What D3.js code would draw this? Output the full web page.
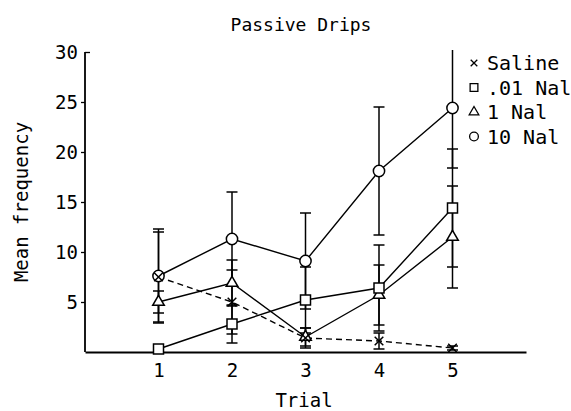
<!DOCTYPE html>
<html>
<head>
<meta charset="utf-8">
<script src="https://cdn.jsdelivr.net/npm/d3@7"></script>
<style>
  html, body { margin: 0; padding: 0; background: #fff; }
  svg { display: block; }
  text { font-family: "DejaVu Sans Mono", monospace; fill: #000; }
</style>
</head>
<body>
<svg id="chart" width="571" height="411"></svg>
<script>
// Trials on the x axis
const trials = [1, 2, 3, 4, 5];

// Mean frequency per trial, with the error half-width for each point
const saline    = [7.5, 5.0, 1.4, 1.1, 0.4];
const salineErr = [4.5, 3.2, 1.0, 0.8, 0.2];
const nal01     = [0.3, 2.8, 5.2, 6.4, 14.4];
const nal01Err  = [0.3, 1.9, 3.3, 4.3, 5.9];
const nal1      = [5.0, 6.9, 1.5, 5.7, 11.5];
const nal1Err   = [1.1, 2.3, 0.9, 3.0, 5.1];
const nal10     = [7.6, 11.3, 9.1, 18.1, 24.4];
const nal10Err  = [4.7, 4.7, 4.8, 6.4, 6.0];

const seriesNames = ["Saline", ".01 Nal", "1 Nal", "10 Nal"];
const yTicks = [5, 10, 15, 20, 25, 30];
const xTicks = [1, 2, 3, 4, 5];

const series = [
  { name: seriesNames[0], values: saline, err: salineErr, symbol: d3.symbolTimes, size: 50, dashed: true },
  { name: seriesNames[1], values: nal01,  err: nal01Err,  symbol: d3.symbolSquare, size: 100 },
  { name: seriesNames[2], values: nal1,   err: nal1Err,   symbol: d3.symbolTriangle, size: 58 },
  { name: seriesNames[3], values: nal10,  err: nal10Err,  symbol: d3.symbolCircle, size: 100 }
];

const svg = d3.select("#chart");
const x = d3.scaleLinear().domain([0, 6]).range([85, 526]);
const y = d3.scaleLinear().domain([0, 30]).range([352, 52]);
const yTop = 30.2;   // error bars are cut off at the top of the plot

// Title
svg.append("text")
  .attr("x", 301).attr("y", 31)
  .attr("text-anchor", "middle")
  .style("font-size", "18px")
  .text("Passive Drips");

// Y axis
const yAxis = svg.append("g")
  .attr("transform", `translate(${x(0)},0)`)
  .call(d3.axisLeft(y).tickValues(yTicks).tickFormat(d3.format("d"))
    .tickSizeInner(4).tickSizeOuter(0).tickPadding(3));
yAxis.select(".domain").attr("d", `M0,${y(30)}V${y(0)}`).attr("stroke-width", 1.8);
yAxis.selectAll(".tick line").attr("stroke-width", 1.3)
  .filter(d => d === 30).attr("x2", 5);
yAxis.selectAll(".tick text").style("font-size", "19px").style("font-family", "DejaVu Sans Mono");

// X axis
const xAxis = svg.append("g")
  .attr("transform", `translate(0,${y(0)})`)
  .call(d3.axisBottom(x).tickValues(xTicks).tickFormat(d3.format("d"))
    .tickSize(0).tickPadding(12));
xAxis.select(".domain").attr("stroke-width", 1.8);
xAxis.selectAll(".tick text").style("font-size", "19px").style("font-family", "DejaVu Sans Mono");

// Axis titles
svg.append("text")
  .attr("x", 304).attr("y", 407)
  .attr("text-anchor", "middle")
  .style("font-size", "19px")
  .text("Trial");
svg.append("text")
  .attr("transform", `translate(28,${(y(0) + y(30)) / 2}) rotate(-90)`)
  .attr("text-anchor", "middle")
  .style("font-size", "19px")
  .text("Mean frequency");

// Error bars
const capW = 5.5;
const bars = svg.append("g").attr("stroke", "#000").attr("stroke-width", 1.5).attr("fill", "none");
series.forEach(s => {
  s.values.forEach((v, i) => {
    const hi = Math.min(v + s.err[i], yTop);
    const lo = Math.max(v - s.err[i], 0);
    const cx = x(trials[i]);
    bars.append("line").attr("x1", cx).attr("x2", cx).attr("y1", y(hi)).attr("y2", y(lo));
    if (v + s.err[i] <= yTop) {
      bars.append("line").attr("x1", cx - capW).attr("x2", cx + capW).attr("y1", y(hi)).attr("y2", y(hi));
    }
    if (v - s.err[i] > 0) {
      bars.append("line").attr("x1", cx - capW).attr("x2", cx + capW).attr("y1", y(lo)).attr("y2", y(lo));
    }
  });
});

// Connecting lines
const line = d3.line().x((d, i) => x(trials[i])).y(d => y(d));
series.forEach(s => {
  svg.append("path")
    .attr("d", line(s.values))
    .attr("fill", "none")
    .attr("stroke", "#000")
    .attr("stroke-width", 1.4)
    .attr("stroke-dasharray", s.dashed ? "6,4" : null);
});

// Markers (Saline drawn last so its cross shows over the circle)
[3, 2, 1, 0].forEach(k => {
  const s = series[k];
  const sym = d3.symbol().type(s.symbol).size(s.size);
  svg.append("g").selectAll("path")
    .data(s.values)
    .join("path")
    .attr("transform", (d, i) => `translate(${x(trials[i])},${y(d)})`)
    .attr("d", sym)
    .attr("fill", s.symbol === d3.symbolTimes ? "none" : "#fff")
    .attr("stroke", "#000")
    .attr("stroke-width", 1.5);
});

// Legend
const legend = svg.append("g");
series.forEach((s, i) => {
  const cy = 63 + i * 24.5;
  legend.append("path")
    .attr("transform", `translate(474,${cy})`)
    .attr("d", d3.symbol().type(s.symbol).size(s.symbol === d3.symbolTimes ? 30 : s.symbol === d3.symbolTriangle ? 40 : 60)())
    .attr("fill", s.symbol === d3.symbolTimes ? "none" : "#fff")
    .attr("stroke", "#000")
    .attr("stroke-width", 1.3);
  legend.append("text")
    .attr("x", 487).attr("y", cy + 7.3)
    .style("font-size", "20px")
    .text(s.name);
});
</script>
</body>
</html>
